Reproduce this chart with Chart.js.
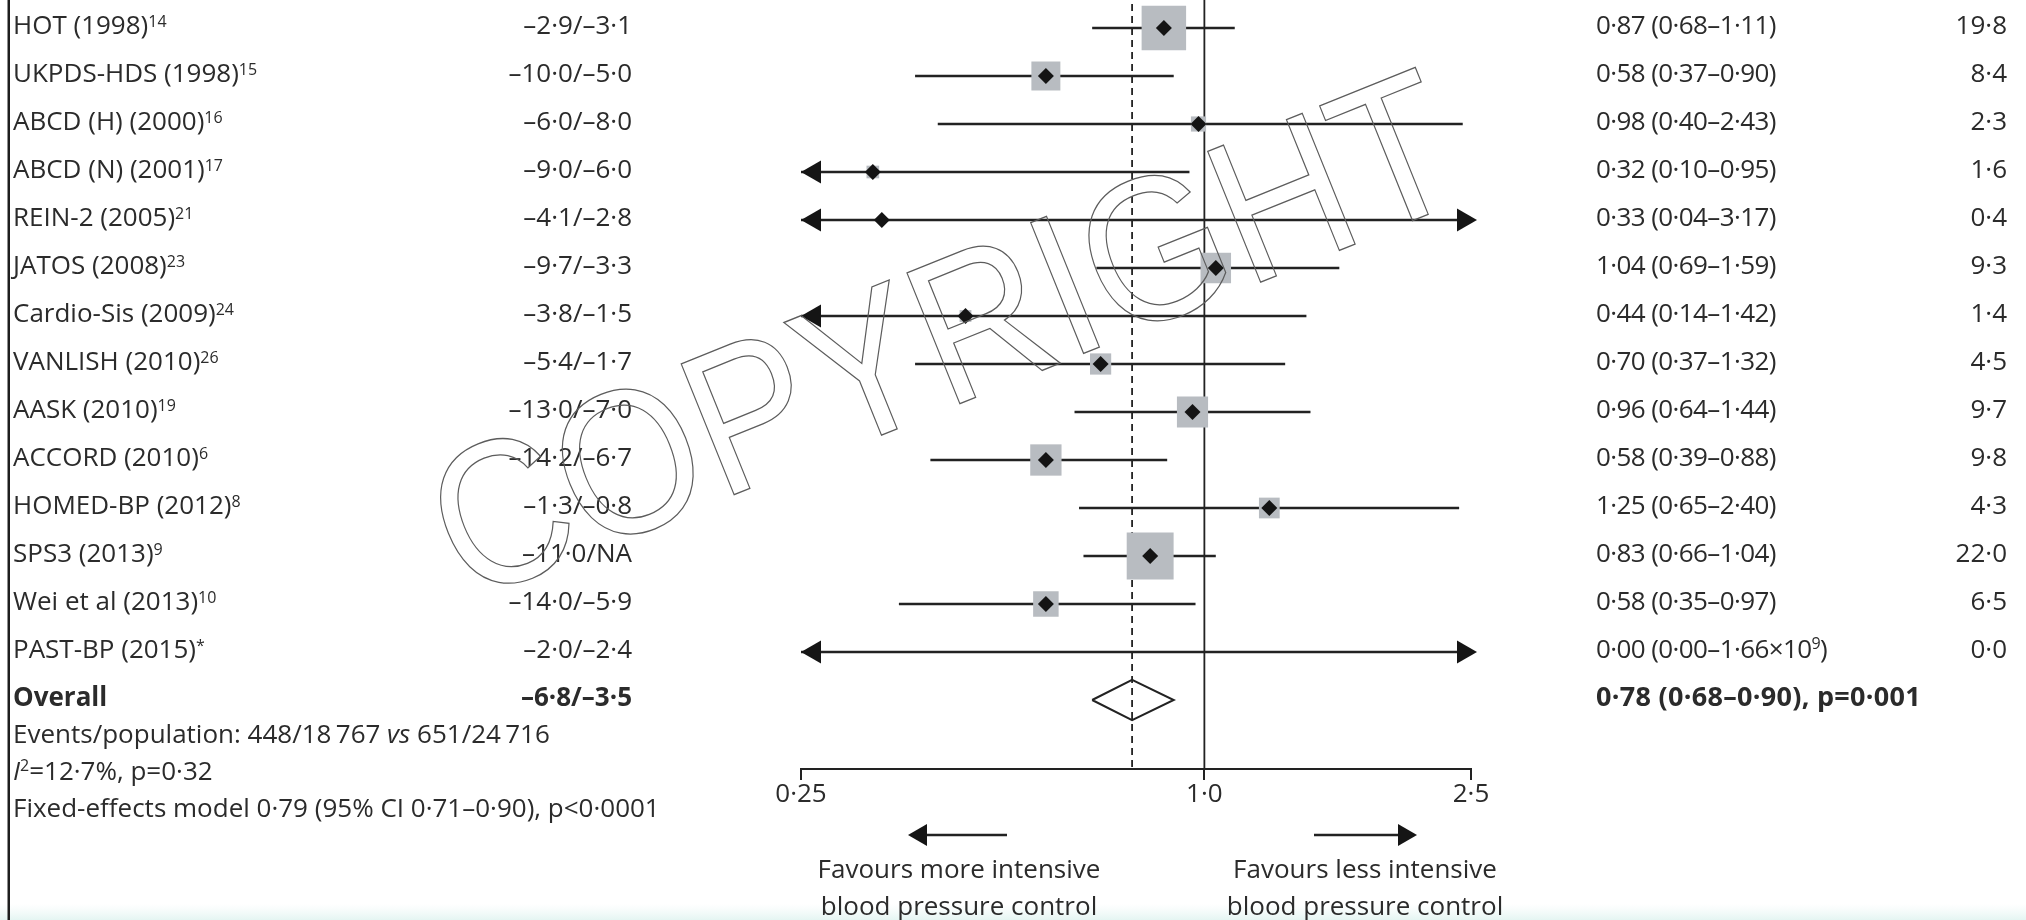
<!DOCTYPE html>
<html>
<head>
<meta charset="utf-8">
<script src="https://cdn.jsdelivr.net/npm/chart.js@4.4.1/dist/chart.umd.min.js"></script>
<style>
html,body{margin:0;padding:0;background:#fff;overflow:hidden}
canvas{display:block}
</style>
</head>
<body>
<canvas id="c" width="2026" height="920"></canvas>
<script>
// ---------------- DATA ----------------
const studies = ['HOT (1998)', 'UKPDS-HDS (1998)', 'ABCD (H) (2000)', 'ABCD (N) (2001)', 'REIN-2 (2005)', 'JATOS (2008)', 'Cardio-Sis (2009)', 'VANLISH (2010)', 'AASK (2010)', 'ACCORD (2010)', 'HOMED-BP (2012)', 'SPS3 (2013)', 'Wei et al (2013)', 'PAST-BP (2015)'];
const refs = ['14', '15', '16', '17', '21', '23', '24', '26', '19', '6', '8', '9', '10', '*'];
const bpDiff = ['–2·9/–3·1', '–10·0/–5·0', '–6·0/–8·0', '–9·0/–6·0', '–4·1/–2·8', '–9·7/–3·3', '–3·8/–1·5', '–5·4/–1·7', '–13·0/–7·0', '–14·2/–6·7', '–1·3/–0·8', '–11·0/NA', '–14·0/–5·9', '–2·0/–2·4'];
const hr = [0.87, 0.58, 0.98, 0.32, 0.33, 1.04, 0.44, 0.70, 0.96, 0.58, 1.25, 0.83, 0.58, 0.00];
const ciLow = [0.68, 0.37, 0.40, 0.10, 0.04, 0.69, 0.14, 0.37, 0.64, 0.39, 0.65, 0.66, 0.35, 0.00];
const ciHigh = [1.11, 0.90, 2.43, 0.95, 3.17, 1.59, 1.42, 1.32, 1.44, 0.88, 2.40, 1.04, 0.97, 1.66e9];
const weights = [19.8, 8.4, 2.3, 1.6, 0.4, 9.3, 1.4, 4.5, 9.7, 9.8, 4.3, 22.0, 6.5, 0.0];
const hrText = ['0·87 (0·68–1·11)', '0·58 (0·37–0·90)', '0·98 (0·40–2·43)', '0·32 (0·10–0·95)', '0·33 (0·04–3·17)', '1·04 (0·69–1·59)', '0·44 (0·14–1·42)', '0·70 (0·37–1·32)', '0·96 (0·64–1·44)', '0·58 (0·39–0·88)', '1·25 (0·65–2·40)', '0·83 (0·66–1·04)', '0·58 (0·35–0·97)', '0·00 (0·00–1·66×10{9})'];

const overallLabel = 'Overall';
const overallBp = '–6·8/–3·5';
const overallHr = 0.78;
const overallLow = 0.68;
const overallHigh = 0.90;
const overallText = '0·78 (0·68–0·90), p=0·001';
const nullValue = 1.0;

const tickValues = [0.25, 1.0, 2.5];
const tickLabels = ['0·25', '1·0', '2·5'];

const leftFavours = ['Favours more intensive', 'blood pressure control'];
const rightFavours = ['Favours less intensive', 'blood pressure control'];

// ---------------- LAYOUT / STYLE ----------------
const FONT = '"Open Sans", "Noto Sans", sans-serif';
const TEXT = '#2b2b2b';
const LINE = '#222222';
const BOXC = '#b8bcc1';
const W = 2026, H = 920;
const ROW_H = 48, FIRST_ROW = 28, AXIS_Y = 769;
const PLOT_L = 801, PLOT_R = 1471;
const Y_MIN = -FIRST_ROW / ROW_H;
const Y_MAX = Y_MIN + AXIS_Y / ROW_H;
const X_MIN = tickValues[0], X_MAX = tickValues[tickValues.length - 1];
const OVERALL_ROW = studies.length;

function f(size, weight, style) { return (style || 'normal') + ' ' + (weight || 'normal') + ' ' + size + 'px ' + FONT; }
const clampX = v => Math.min(Math.max(v, X_MIN), X_MAX);
const fmt1 = v => v.toFixed(1).replace('.', '·');

// ---------------- DATASETS ----------------
const ciData = [];
studies.forEach((s, i) => {
  ciData.push({x: clampX(ciLow[i]), y: i}, {x: clampX(ciHigh[i]), y: i}, {x: null, y: null});
});
const estData = studies.map((s, i) => ({x: hr[i] > 0 ? hr[i] : null, y: i}));
const boxRadius = weights.map(w => 10 * Math.sqrt(w) / Math.SQRT2);
const leftArrowData = [], rightArrowData = [];
studies.forEach((s, i) => {
  if (ciLow[i] < X_MIN) leftArrowData.push({x: X_MIN, y: i});
  if (ciHigh[i] > X_MAX) rightArrowData.push({x: X_MAX, y: i});
});
const DH = 0.42;
const overallDiamond = [
  {x: overallLow, y: OVERALL_ROW}, {x: overallHr, y: OVERALL_ROW - DH},
  {x: overallHigh, y: OVERALL_ROW}, {x: overallHr, y: OVERALL_ROW + DH},
  {x: overallLow, y: OVERALL_ROW}
];

function arrowImage(dir) {
  const c = document.createElement('canvas');
  const len = 20, hh = 12, extra = dir > 0 ? 6 : 0;
  c.width = 2 * (len + extra) + 2; c.height = 2 * hh;
  const cx = c.width / 2, cy = hh;
  const g = c.getContext('2d');
  g.fillStyle = '#151515';
  g.beginPath();
  if (dir < 0) { g.moveTo(cx, cy); g.lineTo(cx + len, 0.5); g.lineTo(cx + len, 2 * hh - 0.5); }
  else { const tip = cx + extra; g.moveTo(tip, cy); g.lineTo(tip - len, 0.5); g.lineTo(tip - len, 2 * hh - 0.5); }
  g.closePath(); g.fill();
  return c;
}

// ---------------- TEXT HELPERS ----------------
function parseRuns(t, size, weight) {
  const runs = [];
  const re = /\{([^}]*)\}/g; let last = 0, m;
  while ((m = re.exec(t))) {
    if (m.index > last) runs.push({t: t.slice(last, m.index), font: f(size, weight)});
    runs.push({t: m[1], font: f(16, weight), dy: -9});
    last = re.lastIndex;
  }
  if (last < t.length) runs.push({t: t.slice(last), font: f(size, weight)});
  return runs;
}
function drawRuns(ctx, runs, x, y, align, spacing) {
  const sp = spacing || 0;
  let w = 0;
  runs.forEach(r => { ctx.font = r.font; w += ctx.measureText(r.t).width + sp * r.t.length; });
  let cx = align === 'right' ? x - w : (align === 'center' ? x - w / 2 : x);
  ctx.textAlign = 'left'; ctx.textBaseline = 'alphabetic';
  runs.forEach(r => {
    ctx.font = r.font;
    if (sp === 0) { ctx.fillText(r.t, cx, y + (r.dy || 0)); cx += ctx.measureText(r.t).width; }
    else { for (const ch of r.t) { ctx.fillText(ch, cx, y + (r.dy || 0)); cx += ctx.measureText(ch).width + sp; } }
  });
}
function favourArrow(ctx, tail, tip, y) {
  const dir = tip > tail ? 1 : -1;
  ctx.strokeStyle = LINE; ctx.fillStyle = '#151515'; ctx.lineWidth = 2.5;
  ctx.beginPath(); ctx.moveTo(tail, y); ctx.lineTo(tip - dir * 14, y); ctx.stroke();
  ctx.beginPath(); ctx.moveTo(tip, y); ctx.lineTo(tip - dir * 19, y - 11); ctx.lineTo(tip - dir * 19, y + 11); ctx.closePath(); ctx.fill();
}

const annot = {
  id: 'annot',
  afterLayout(chart) {
    // pin the row grid so that row 0 sits at FIRST_ROW and rows are ROW_H apart
    const ca = chart.chartArea, ys = chart.scales.y;
    ys.min = (ca.top - FIRST_ROW) / ROW_H;
    ys.max = ys.min + (ca.bottom - ca.top) / ROW_H;
    ys.configure();
  },
  beforeDraw(chart) {
    const ctx = chart.ctx;
    ctx.save();
    ctx.fillStyle = '#fff'; ctx.fillRect(0, 0, W, H);
    const g = ctx.createLinearGradient(0, 904, 0, 920);
    g.addColorStop(0, 'rgba(236,248,246,0)'); g.addColorStop(1, 'rgba(228,245,242,1)');
    ctx.fillStyle = g; ctx.fillRect(0, 904, W, 16);
    ctx.restore();
  },
  afterDraw(chart) {
    const ctx = chart.ctx, ys = chart.scales.y;
    ctx.save();
    ctx.fillStyle = TEXT;
    studies.forEach((s, i) => {
      const y = ys.getPixelForValue(i) + 6;
      drawRuns(ctx, [{t: s, font: f(26)}, {t: refs[i], font: f(16), dy: -7}], 13, y, 'left');
      drawRuns(ctx, [{t: bpDiff[i], font: f(26)}], 632, y, 'right');
      drawRuns(ctx, parseRuns(hrText[i], 26), 1596, y, 'left', -0.6);
      drawRuns(ctx, [{t: fmt1(weights[i]), font: f(26)}], 2007, y, 'right');
    });
    const yo = ys.getPixelForValue(OVERALL_ROW) + 6;
    drawRuns(ctx, [{t: overallLabel, font: f(26, 'bold')}], 13, yo, 'left');
    drawRuns(ctx, [{t: overallBp, font: f(26, 'bold')}], 632, yo, 'right');
    drawRuns(ctx, [{t: overallText, font: f(27, 'bold')}], 1596, yo, 'left', 0.3);

    drawRuns(ctx, [{t: 'Events/population: 448/18\u2009767 ', font: f(26)}, {t: 'vs', font: f(26, 'normal', 'italic')}, {t: ' 651/24\u2009716', font: f(26)}], 13, 743, 'left');
    drawRuns(ctx, [{t: 'I', font: f(26, 'normal', 'italic')}, {t: '2', font: f(16), dy: -9}, {t: '=12·7%, p=0·32', font: f(26)}], 13, 780, 'left');
    drawRuns(ctx, [{t: 'Fixed-effects model 0·79 (95% CI 0·71–0·90), p<0·0001', font: f(26)}], 13, 817, 'left');

    favourArrow(ctx, 1007, 908, 835);
    favourArrow(ctx, 1314, 1417, 835);
    ctx.fillStyle = TEXT;
    drawRuns(ctx, [{t: leftFavours[0], font: f(26)}], 959, 878, 'center');
    drawRuns(ctx, [{t: leftFavours[1], font: f(26)}], 959, 915, 'center');
    drawRuns(ctx, [{t: rightFavours[0], font: f(26)}], 1365, 878, 'center');
    drawRuns(ctx, [{t: rightFavours[1], font: f(26)}], 1365, 915, 'center');

    // left frame line
    ctx.fillStyle = '#1e1e1e'; ctx.fillRect(7.5, 0, 2.5, H);

    // watermark
    ctx.translate(942, 332);
    ctx.rotate(-22 * Math.PI / 180);
    ctx.scale(0.89, 1);
    ctx.font = '205px "Liberation Sans", Arial, sans-serif';
    ctx.textAlign = 'center'; ctx.textBaseline = 'alphabetic';
    ctx.strokeStyle = '#5c5c5c'; ctx.lineWidth = 1.3;
    ctx.strokeText('COPYRIGHT', 0, 73);
    ctx.restore();
  }
};

Chart.defaults.font.family = FONT;
new Chart(document.getElementById('c'), {
  type: 'scatter',
  data: {
    datasets: [
      {label: 'overall', data: overallDiamond, showLine: true, borderColor: LINE, borderWidth: 2, pointRadius: 0, fill: false, tension: 0, order: 1, clip: false},
      {label: 'estimate', data: estData, pointStyle: 'rectRot', pointRadius: 8, backgroundColor: '#141414', borderWidth: 0, order: 2, clip: false},
      {label: 'leftArrow', data: leftArrowData, pointStyle: arrowImage(-1), order: 3, clip: false},
      {label: 'rightArrow', data: rightArrowData, pointStyle: arrowImage(1), order: 3, clip: false},
      {label: 'weight', data: estData, pointStyle: 'rect', pointRadius: boxRadius, backgroundColor: BOXC, borderWidth: 0, order: 4, clip: false},
      {label: 'ci', data: ciData, showLine: true, spanGaps: false, borderColor: LINE, borderWidth: 2.6, pointRadius: 0, order: 5, clip: false},
      {label: 'null', data: [{x: nullValue, y: -1}, {x: nullValue, y: Y_MAX}], showLine: true, borderColor: LINE, borderWidth: 1.8, pointRadius: 0, order: 6, clip: false},
      {label: 'overallLine', data: [{x: overallHr, y: -1}, {x: overallHr, y: Y_MAX}], showLine: true, borderColor: LINE, borderWidth: 1.8, borderDash: [7, 5], pointRadius: 0, order: 6, clip: false}
    ]
  },
  options: {
    responsive: false,
    animation: false,
    devicePixelRatio: 1,
    events: [],
    layout: {padding: {left: PLOT_L, right: W - PLOT_R, top: 0, bottom: 0}},
    plugins: {legend: {display: false}, tooltip: {enabled: false}},
    scales: {
      x: {
        type: 'logarithmic', min: X_MIN, max: X_MAX, position: 'bottom',
        afterBuildTicks: s => { s.ticks = tickValues.map(v => ({value: v})); },
        afterFit: s => { s.height = H - AXIS_Y; },
        grid: {drawOnChartArea: false, drawTicks: true, tickLength: 11, color: LINE, lineWidth: 2},
        border: {display: true, color: LINE, width: 2},
        ticks: {autoSkip: false, maxRotation: 0, minRotation: 0, padding: -1, color: TEXT, font: {family: FONT, size: 26}, callback: (v, i) => tickLabels[i]}
      },
      y: {type: 'linear', display: false, reverse: true, min: Y_MIN, max: Y_MAX}
    }
  },
  plugins: [annot]
});
</script>
</body>
</html>
